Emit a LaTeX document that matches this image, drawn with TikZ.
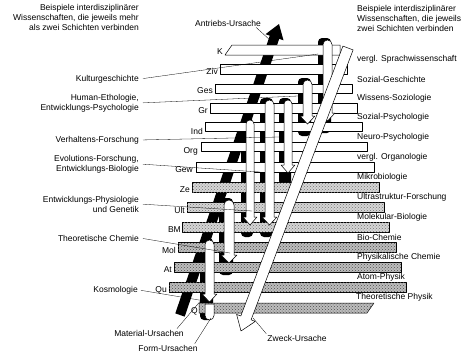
\documentclass[tikz,border=0pt]{standalone}
\usepackage{fontspec}
\setmainfont{Liberation Sans}
\usetikzlibrary{patterns}

\tikzset{
  slab/.style={draw, line width=0.5pt, fill=white},
  slabdot/.style={draw, line width=0.5pt, fill=black!16, postaction={pattern=crosshatch dots, pattern color=black!55}},
  slabdark/.style={draw, line width=0.5pt, fill=black!26, postaction={pattern=crosshatch dots, pattern color=black!70}},
  colshadow/.style={fill=black, rounded corners=4pt},
  colbar/.style={draw, line width=0.5pt, fill=white},
  leader/.style={line width=0.3pt},
  lbl/.style={font=\fontsize{8.5}{10}\selectfont, inner sep=1pt},
}

\begin{document}
\begin{tikzpicture}[x=1pt, y=-1pt, line join=round]
  \useasboundingbox (0,0) rectangle (474,359);

  % Antriebs-Ursache (black arrow, behind the layers)
  \fill[black] (175.3,313.4) -- (269.8,35.6) -- (265.5,34.2) -- (279,24) -- (283.5,40.3) -- (279.2,38.9) -- (184.7,316.6) -- cycle;

  % Shadows of the columns
  \fill[colshadow] (318,38) rectangle (331,133);
  \fill[colshadow] (298,78) rectangle (311,136);
  \fill[colshadow] (279,98) rectangle (291,185);
  \fill[colshadow] (260,98) rectangle (273,237);
  \fill[colshadow] (241,118) rectangle (253,237);
  \fill[colshadow] (219,198) rectangle (233,275);
  \fill[colshadow] (200,238) rectangle (213,320);

  % Layers
  \draw[slab] (225,55) -- (232,45) -- (340,45) -- (340,55) -- cycle;
  \draw[slab] (220,64) rectangle (347,74);
  \draw[slab] (215,84) rectangle (352,93);
  \draw[slab] (210,103) rectangle (357,113);
  \draw[slab] (205,122) rectangle (362,131);
  \draw[slab] (201,142) rectangle (367,151);
  \draw[slab] (196,162) rectangle (374,172);
  \draw[slabdot] (192,182) rectangle (379,192);
  \draw[slabdot] (187,202) rectangle (384,212);
  \draw[slabdot] (182,222) rectangle (389,232);
  \draw[slabdark] (178,242) rectangle (396,252);
  \draw[slabdark] (174,262) rectangle (401,272);
  \draw[slabdark] (169,282) rectangle (406,292);
  \draw[slabdark] (199,303) -- (374,303) -- (367,313) -- (199,313) -- cycle;

  % Columns (form causes)
  \draw[colbar] (323,113) -- (323,44.5) arc[start angle=180, end angle=360, radius=4.5] -- (332,113) -- (335,113) -- (327.5,121) -- (320,113) -- cycle;
  \draw[colbar] (303,116) -- (303,84.5) arc[start angle=180, end angle=360, radius=4.5] -- (312,116) -- (315,116) -- (307.5,124) -- (300,116) -- cycle;
  \draw[colbar] (284,165) -- (284,104) arc[start angle=180, end angle=360, radius=4] -- (292,165) -- (295,165) -- (288,173) -- (281,165) -- cycle;
  \draw[colbar] (265,217) -- (265,104.5) arc[start angle=180, end angle=360, radius=4.5] -- (274,217) -- (277,217) -- (269.5,225) -- (262,217) -- cycle;
  \draw[colbar] (246,217) -- (246,124) arc[start angle=180, end angle=360, radius=4] -- (254,217) -- (257,217) -- (250,225) -- (243,217) -- cycle;
  \draw[colbar] (224,255) -- (224,205) arc[start angle=180, end angle=360, radius=5] -- (234,255) -- (237,255) -- (229,263) -- (221,255) -- cycle;
  \draw[colbar] (205,294) -- (205,244.5) arc[start angle=180, end angle=360, radius=4.5] -- (214,294) -- (217,294) -- (209.5,302) -- (202,294) -- cycle;
  \draw[colbar] (205,304) -- (205,315.5) arc[start angle=180, end angle=0, radius=4.5] -- (214,304) -- cycle;

  % Zweck-Ursache (white arrow, in front)
  \draw[colbar] (342.9,46.1) -- (353.1,49.9) -- (251.1,319.8) -- (255.3,321.4) -- (241,331) -- (236.6,314.4) -- (240.8,316.0) -- cycle;

  % Headings
  \node[lbl, anchor=east, align=right] (bspmehr) at (140,17) {Beispiele interdisziplinärer\\Wissenschaften, die jeweils mehr\\als zwei Schichten verbinden};
  \node[lbl, anchor=west, align=left] (bspzwei) at (356,18) {Beispiele interdisziplinärer\\Wissenschaften, die jeweils\\zwei Schichten verbinden};

  % Sciences across more than two layers
  \node[lbl, anchor=east] (kultur) at (140,79) {Kulturgeschichte};
  \node[lbl, anchor=east, align=right] (human) at (140,103) {Human-Ethologie,\\Entwicklungs-Psychologie};
  \node[lbl, anchor=east] (verhalten) at (140,140) {Verhaltens-Forschung};
  \node[lbl, anchor=east, align=right] (evolution) at (140,164) {Evolutions-Forschung,\\Entwicklungs-Biologie};
  \node[lbl, anchor=east, align=right] (entwphys) at (140,204) {Entwicklungs-Physiologie\\und Genetik};
  \node[lbl, anchor=east] (theochem) at (140,238) {Theoretische Chemie};
  \node[lbl, anchor=east] (kosmo) at (139,290) {Kosmologie};

  % Sciences across two layers
  \node[lbl, anchor=west] (sprach) at (356,59.5) {vergl. Sprachwissenschaft};
  \node[lbl, anchor=west] (sozgesch) at (356,79) {Sozial-Geschichte};
  \node[lbl, anchor=west] (wissoz) at (356,98.5) {Wissens-Soziologie};
  \node[lbl, anchor=west] (sozpsy) at (356,117.5) {Sozial-Psychologie};
  \node[lbl, anchor=west] (neuro) at (356,137) {Neuro-Psychologie};
  \node[lbl, anchor=west] (organ) at (356,157) {vergl. Organologie};
  \node[lbl, anchor=west] (mikro) at (356,177) {Mikrobiologie};
  \node[lbl, anchor=west] (ultra) at (356,197) {Ultrastruktur-Forschung};
  \node[lbl, anchor=west] (molbio) at (356,217) {Molekular-Biologie};
  \node[lbl, anchor=west] (biochem) at (356,237) {Bio-Chemie};
  \node[lbl, anchor=west] (phychem) at (356,257) {Physikalische Chemie};
  \node[lbl, anchor=west] (atom) at (356,277) {Atom-Physik};
  \node[lbl, anchor=west] (theophy) at (355,297.5) {Theoretische Physik};

  % Layer names
  \node[lbl, anchor=east] (lK) at (224,52) {K};
  \node[lbl, anchor=east] (lZiv) at (219,71) {Ziv};
  \node[lbl, anchor=east] (lGes) at (214,91) {Ges};
  \node[lbl, anchor=east] (lGr) at (209,111) {Gr};
  \node[lbl, anchor=east] (lInd) at (204,131) {Ind};
  \node[lbl, anchor=east] (lOrg) at (199,151) {Org};
  \node[lbl, anchor=east] (lGew) at (194,170) {Gew};
  \node[lbl, anchor=east] (lZe) at (191,190) {Ze};
  \node[lbl, anchor=east] (lUlt) at (186,210) {Ult};
  \node[lbl, anchor=east] (lBM) at (182,230) {BM};
  \node[lbl, anchor=east] (lMol) at (177,250) {Mol};
  \node[lbl, anchor=east] (lAt) at (173,270) {At};
  \node[lbl, anchor=east] (lQu) at (168,290) {Qu};
  \node[lbl, anchor=east] (lQ) at (199,311) {Q};

  % Causes
  \node[lbl] (antrieb) at (228,23) {Antriebs-Ursache};
  \node[lbl] (zweck) at (297,338) {Zweck-Ursache};
  \node[lbl] (material) at (149,333) {Material-Ursachen};
  \node[lbl] (form) at (168,348) {Form-Ursachen};

  % Leader lines to the columns
  \coordinate (pKultur) at (318,54);
  \coordinate (pHuman) at (298,96);
  \coordinate (pVerhalten) at (279,137);
  \coordinate (pEvolution) at (260,172);
  \coordinate (pEntwPhys) at (252,211);
  \coordinate (pTheoChem) at (230,253);
  \coordinate (pKosmo) at (205,301);
  \draw[leader, shorten <=3pt] (kultur.east) -- (pKultur);
  \draw[leader, shorten <=3pt] (human.east) -- (pHuman);
  \draw[leader, shorten <=3pt] (verhalten.east) -- (pVerhalten);
  \draw[leader, shorten <=3pt] (evolution.east) -- (pEvolution);
  \draw[leader, shorten <=3pt] (entwphys.east) -- (pEntwPhys);
  \draw[leader, shorten <=3pt] (theochem.east) -- (pTheoChem);
  \draw[leader, shorten <=2pt] (kosmo.east) -- (pKosmo);

  % Leader lines of the causes
  \coordinate (pAntrieb) at (271,41);
  \coordinate (pZweck) at (253,318);
  \coordinate (pMaterial) at (203,298);
  \coordinate (pForm) at (211,318);
  \draw[leader] ([xshift=-6pt]antrieb.south east) -- (pAntrieb);
  \draw[leader] (zweck.north west) -- (pZweck);
  \draw[leader] ([xshift=-8pt]material.north east) -- (pMaterial);
  \draw[leader] ([xshift=-4pt]form.north east) -- (pForm);
\end{tikzpicture}
\end{document}
